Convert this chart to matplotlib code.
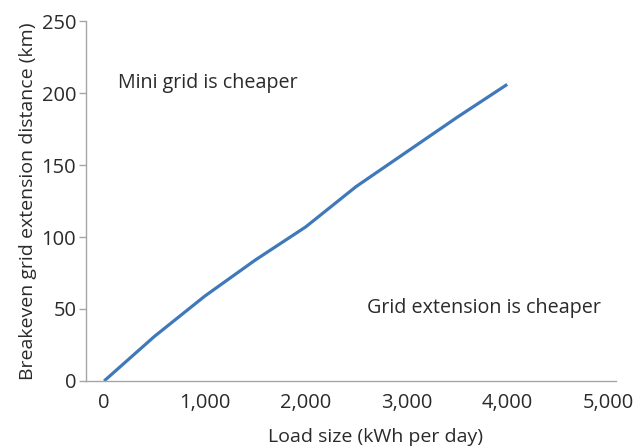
import matplotlib
matplotlib.use('Agg')
import matplotlib.pyplot as plt
from matplotlib.ticker import FuncFormatter

plt.rcParams['font.family'] = ['Open Sans', 'DejaVu Sans']

# load size (kWh per day) vs breakeven grid extension distance (km)
load_kwh = [0, 500, 1000, 1500, 2000, 2500, 3000, 3500, 4000]
distance_km = [0, 31, 59, 84, 107, 135, 159, 183, 206]

x_ticks = [0, 1000, 2000, 3000, 4000, 5000]
y_ticks = [0, 50, 100, 150, 200, 250]

text_col = '#2a2a2a'
axis_col = '#a6a6a6'

fig = plt.figure(figsize=(6.36, 4.48), dpi=100)
ax = fig.add_axes([0.1352, 0.1496, 0.8334, 0.8034])

ax.plot(load_kwh, distance_km, color='#3f79b9', lw=2.3, solid_capstyle='butt')

ax.set_xlim(-180, 5080)
ax.set_ylim(0, 250)
ax.set_xticks(x_ticks)
ax.set_yticks(y_ticks)
ax.xaxis.set_major_formatter(FuncFormatter(lambda v, p: '{:,.0f}'.format(v)))

for s in ['top', 'right']:
    ax.spines[s].set_visible(False)
for s in ['left', 'bottom']:
    ax.spines[s].set_color(axis_col)
    ax.spines[s].set_linewidth(1.0)

ax.tick_params(axis='x', length=0, pad=9, labelsize=14.5, labelcolor=text_col)
ax.tick_params(axis='y', length=5, width=1, color=axis_col, pad=2,
               labelsize=14.5, labelcolor=text_col)

ax.set_xlabel('Load size (kWh per day)', fontsize=14, color=text_col, labelpad=12)
ax.xaxis.set_label_coords(0.547, -0.13)
ax.set_ylabel('Breakeven grid extension distance (km)', fontsize=14,
              color=text_col, labelpad=3)

ax.text(139, 207, 'Mini grid is cheaper', fontsize=14.2, color=text_col,
        ha='left', va='center')
ax.text(2609, 51, 'Grid extension is cheaper', fontsize=14.2, color=text_col,
        ha='left', va='center')

fig.savefig('out.png', dpi=100)
